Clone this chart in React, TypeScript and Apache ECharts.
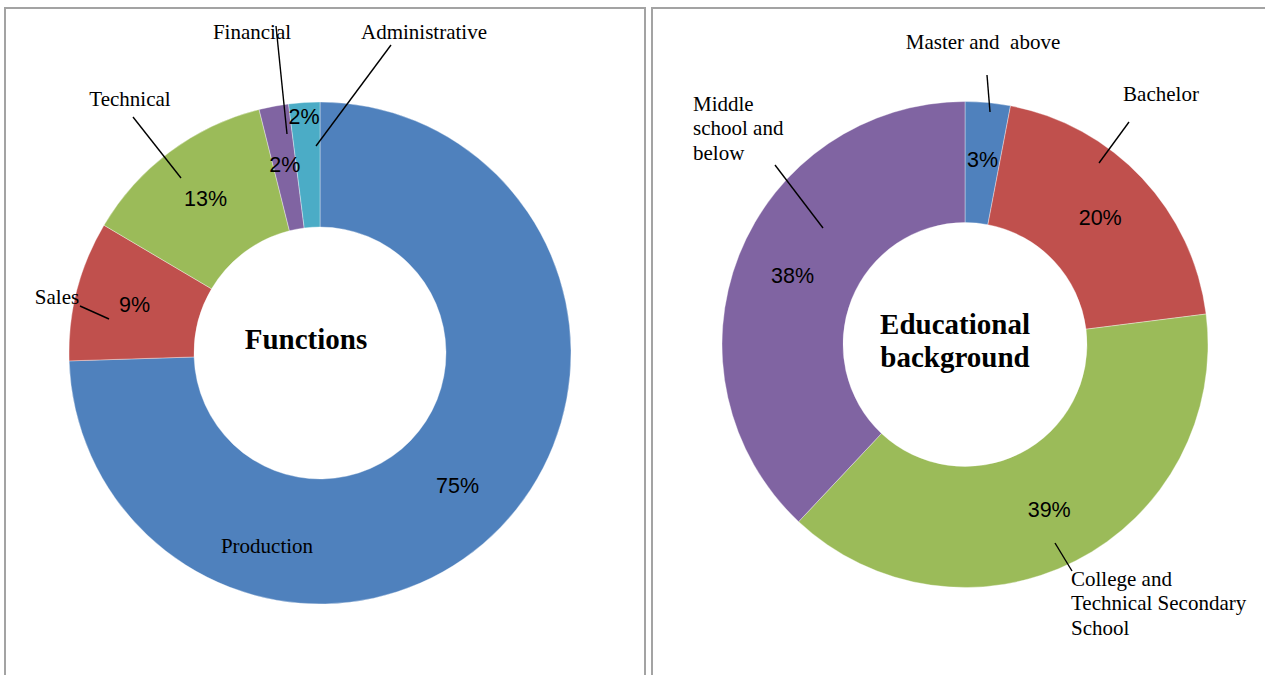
import React, { useEffect, useRef } from "react";
import * as echarts from "echarts";

// ---- Data ----
const functionNames = ["Production", "Sales", "Technical", "Financial", "Administrative"];
const functionValues = [74.5, 9.0, 12.6, 1.9, 2.0];
const functionColors = ["#4F81BD", "#C0504D", "#9BBB59", "#8064A2", "#4BACC6"];

const educationNames = [
  "Master and  above",
  "Bachelor",
  "College and Technical Secondary School",
  "Middle school and below",
];
const educationLabels = [
  "Master and  above",
  "Bachelor",
  "College and\nTechnical Secondary\nSchool",
  "Middle\nschool and\nbelow",
];
const educationValues = [3, 20, 39, 38];
const educationColors = ["#4F81BD", "#C0504D", "#9BBB59", "#8064A2"];

const functionTitle = "Functions";
const educationTitle = "Educational\nbackground";

// ---- Label placements (annotation layout) ----
type Place = { x: number; y: number; align: string; line: number[][] | null };
const functionPlaces: Place[] = [
  { x: 267, y: 546, align: "center", line: null },
  { x: 57, y: 297, align: "center", line: [[80, 306], [109, 319]] },
  { x: 130, y: 99, align: "center", line: [[133, 117], [181, 178]] },
  { x: 252, y: 32, align: "center", line: [[276, 26], [287, 134]] },
  { x: 424, y: 32, align: "center", line: [[391, 45], [316, 146]] },
];
const educationPlaces: Place[] = [
  { x: 983, y: 42, align: "center", line: [[987, 75], [990, 112]] },
  { x: 1161, y: 94, align: "center", line: [[1129, 122], [1099, 163]] },
  { x: 1071, y: 603, align: "left", line: [[1055, 543], [1072, 571]] },
  { x: 693, y: 128, align: "left", line: [[775, 165], [823, 228]] },
];
// percent label nudges (only the small teal slice is moved outward)
const functionPctShift = [null, null, null, null, { dx: -4, dy: -45 }];

const serif = "'Liberation Serif', 'Times New Roman', serif";
const sans = "'Liberation Sans', Arial, sans-serif";

function sum(a: number[]) {
  return a.reduce((s, v) => s + v, 0);
}

function makeSeries(
  names: string[],
  labels: string[],
  values: number[],
  colors: string[],
  center: number[],
  radius: number[],
  places: Place[],
  shifts: any[]
) {
  const total = sum(values);
  const base = {
    type: "pie",
    center,
    radius,
    startAngle: 90,
    clockwise: true,
    avoidLabelOverlap: false,
    silent: true,
    emphasis: { disabled: true },
  };
  const pct = {
    ...base,
    z: 2,
    data: values.map((v, i) => ({
      name: names[i],
      value: v,
      itemStyle: { color: colors[i], borderColor: "rgba(255,255,255,0.6)", borderWidth: 0.6 },
    })),
    label: {
      show: true,
      position: "inside",
      color: "#000",
      fontFamily: sans,
      fontSize: 21.5,
      formatter: (p: any) => Math.round((p.value / total) * 100) + "%",
    },
    labelLine: { show: false },
    labelLayout: (p: any) => {
      const s = shifts[p.dataIndex];
      return s ? { dx: s.dx, dy: s.dy } : {};
    },
  };
  const nm = {
    ...base,
    z: 6,
    data: values.map((v, i) => ({
      name: names[i],
      value: v,
      itemStyle: { color: "rgba(0,0,0,0)" },
      label: { formatter: labels[i] },
      labelLine: { show: !!places[i].line },
    })),
    label: {
      show: true,
      position: "outside",
      color: "#000",
      fontFamily: serif,
      fontSize: 21,
      lineHeight: 24.5,
    },
    labelLine: { show: true, lineStyle: { color: "#000", width: 1.4 } },
    labelLayout: (p: any) => {
      const pl = places[p.dataIndex];
      const out: any = { x: pl.x, y: pl.y, align: pl.align, verticalAlign: "middle" };
      if (pl.line) {
        const a = pl.line[0];
        const b = pl.line[1];
        out.labelLinePoints = [a, [(a[0] + b[0]) / 2, (a[1] + b[1]) / 2], b];
      }
      return out;
    },
  };
  return [pct, nm];
}

export default function App() {
  const ref = useRef<HTMLDivElement>(null);
  useEffect(() => {
    if (!ref.current) return;
    const chart = echarts.init(ref.current, null, { renderer: "svg" });
    const option: any = {
      animation: false,
      backgroundColor: "#fff",
      graphic: [
        {
          type: "rect",
          shape: { x: 5, y: 8, width: 640, height: 800 },
          style: { fill: "none", stroke: "#a3a3a3", lineWidth: 2 },
          silent: true,
        },
        {
          type: "rect",
          shape: { x: 652, y: 8, width: 700, height: 800 },
          style: { fill: "none", stroke: "#a3a3a3", lineWidth: 2 },
          silent: true,
        },
        {
          type: "text",
          x: 306,
          y: 339,
          z: 100,
          style: {
            text: functionTitle,
            align: "center",
            verticalAlign: "middle",
            fontFamily: serif,
            fontWeight: "bold",
            fontSize: 29,
            fill: "#000",
          },
        },
        {
          type: "text",
          x: 955,
          y: 340,
          z: 100,
          style: {
            text: educationTitle,
            align: "center",
            verticalAlign: "middle",
            fontFamily: serif,
            fontWeight: "bold",
            fontSize: 29,
            lineHeight: 33,
            fill: "#000",
          },
        },
      ],
      series: [
        ...makeSeries(
          functionNames,
          functionNames,
          functionValues,
          functionColors,
          [320, 353],
          [126, 251],
          functionPlaces,
          functionPctShift
        ),
        ...makeSeries(
          educationNames,
          educationLabels,
          educationValues,
          educationColors,
          [965, 344.5],
          [122, 243],
          educationPlaces,
          [null, null, null, null]
        ),
      ],
    };
    chart.setOption(option);
    return () => chart.dispose();
  }, []);
  return (
    <div
      ref={ref}
      style={{ position: "fixed", left: 0, top: 0, width: 1265, height: 675, background: "#fff" }}
    />
  );
}
